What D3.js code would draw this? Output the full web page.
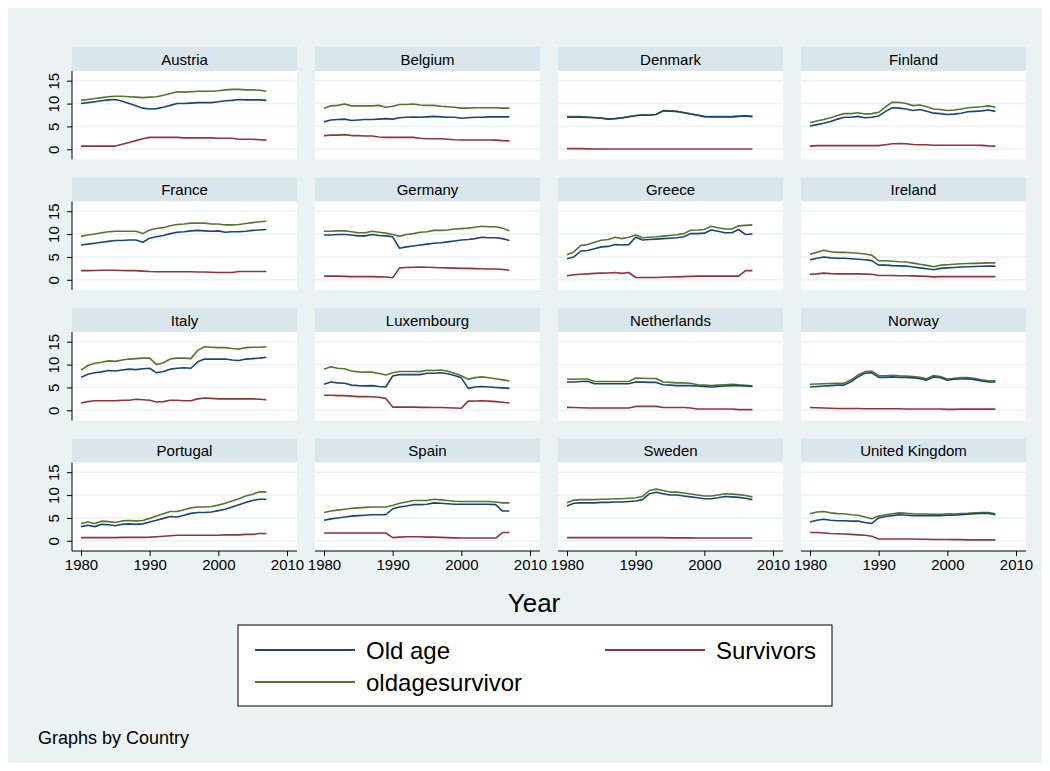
<!DOCTYPE html>
<html><head><meta charset="utf-8">
<script src="https://cdn.jsdelivr.net/npm/d3@7"></script>
<style>body{margin:0;background:#fff;} text{font-family:"Liberation Sans",Arial,sans-serif;}</style>
</head><body>
<svg id="c" width="1050" height="771"></svg>
<script>
const years = d3.range(1980, 2008);
const countries = ["Austria","Belgium","Denmark","Finland","France","Germany","Greece","Ireland","Italy","Luxembourg","Netherlands","Norway","Portugal","Spain","Sweden","United Kingdom"];
const xTicks = [1980,1990,2000,2010];
const yTicks = [0,5,10,15];
const seriesNames = ["Old age","Survivors","oldagesurvivor"];
const seriesColors = ["#1a476f","#90353b","#55752f"];

const austriaOld = [10.0,10.2,10.4,10.6,10.8,10.9,10.5,10.0,9.5,9.0,8.8,8.9,9.2,9.6,10.0,10.0,10.1,10.2,10.2,10.2,10.4,10.6,10.7,10.9,10.8,10.8,10.8,10.7];
const austriaSurv = [0.7,0.7,0.7,0.7,0.7,0.7,1.1,1.5,1.9,2.3,2.6,2.6,2.6,2.6,2.6,2.5,2.5,2.5,2.5,2.5,2.4,2.4,2.4,2.2,2.2,2.2,2.1,2.0];
const austriaTot = [10.7,10.9,11.1,11.3,11.5,11.6,11.6,11.5,11.4,11.3,11.4,11.5,11.8,12.2,12.6,12.5,12.6,12.7,12.7,12.7,12.8,13.0,13.1,13.1,13.0,13.0,12.9,12.7];

const belgiumOld = [6.0,6.4,6.5,6.6,6.3,6.4,6.5,6.5,6.6,6.7,6.6,6.9,7.0,7.05,7.0,7.1,7.2,7.1,7.0,7.0,6.8,6.9,7.0,7.0,7.1,7.1,7.1,7.1];
const belgiumSurv = [3.0,3.1,3.1,3.2,3.0,3.0,2.9,2.9,2.7,2.6,2.6,2.6,2.6,2.6,2.4,2.3,2.3,2.3,2.2,2.1,2.05,2.05,2.05,2.05,2.05,2.0,1.9,1.85];
const belgiumTot = [9.0,9.5,9.6,9.9,9.5,9.5,9.5,9.5,9.6,9.2,9.4,9.8,9.8,9.9,9.7,9.6,9.6,9.4,9.3,9.2,9.0,9.0,9.1,9.1,9.1,9.1,9.0,9.0];

const denmarkOld = [7.0,7.0,7.0,6.95,6.9,6.8,6.6,6.7,6.85,7.1,7.35,7.5,7.45,7.6,8.4,8.35,8.25,8.0,7.7,7.45,7.15,7.1,7.1,7.1,7.1,7.2,7.3,7.15];
const denmarkSurv = [0.15,0.15,0.15,0.1,0.05,0.05,0.05,0.05,0.05,0.05,0.05,0.05,0.05,0.05,0.05,0.05,0.05,0.05,0.05,0.05,0.05,0.05,0.05,0.05,0.05,0.05,0.05,0.05];
const denmarkTot = [7.15,7.15,7.15,7.05,6.95,6.85,6.65,6.75,6.9,7.15,7.4,7.55,7.5,7.65,8.45,8.4,8.3,8.05,7.75,7.5,7.2,7.15,7.15,7.15,7.15,7.25,7.35,7.2];

const finlandOld = [5.1,5.4,5.7,6.1,6.6,7.0,7.0,7.2,6.9,7.0,7.3,8.3,9.1,9.0,8.8,8.5,8.7,8.3,7.9,7.8,7.6,7.7,7.9,8.2,8.3,8.4,8.6,8.3];
const finlandSurv = [0.7,0.8,0.8,0.8,0.8,0.8,0.8,0.8,0.8,0.8,0.8,1.0,1.2,1.25,1.2,1.05,1.0,1.0,0.9,0.9,0.9,0.9,0.9,0.9,0.9,0.85,0.75,0.7];
const finlandTot = [5.8,6.2,6.5,6.9,7.4,7.8,7.8,8.0,7.7,7.8,8.1,9.3,10.3,10.25,10.0,9.55,9.7,9.3,8.8,8.7,8.5,8.6,8.8,9.1,9.2,9.3,9.5,9.2];

const franceOld = [7.6,7.8,8.0,8.2,8.4,8.6,8.6,8.7,8.7,8.2,9.1,9.4,9.7,10.1,10.4,10.5,10.7,10.8,10.7,10.6,10.7,10.4,10.5,10.5,10.6,10.8,10.9,11.0];
const franceSurv = [2.0,2.0,2.05,2.1,2.1,2.1,2.05,2.0,2.0,1.9,1.8,1.75,1.75,1.75,1.75,1.75,1.75,1.7,1.7,1.65,1.6,1.6,1.6,1.8,1.8,1.8,1.8,1.8];
const franceTot = [9.5,9.8,10.0,10.3,10.5,10.6,10.6,10.6,10.6,10.1,10.9,11.2,11.4,11.8,12.1,12.2,12.4,12.4,12.4,12.2,12.2,12.0,12.0,12.1,12.3,12.5,12.7,12.8];

const germanyOld = [9.8,9.8,9.9,9.9,9.8,9.6,9.6,9.9,9.7,9.6,9.4,6.9,7.2,7.4,7.6,7.8,8.0,8.1,8.3,8.5,8.7,8.8,9.0,9.3,9.2,9.2,9.0,8.6];
const germanySurv = [0.8,0.8,0.8,0.75,0.7,0.7,0.7,0.7,0.65,0.6,0.45,2.6,2.7,2.75,2.8,2.75,2.7,2.65,2.6,2.55,2.5,2.5,2.45,2.4,2.35,2.35,2.25,2.1];
const germanyTot = [10.6,10.6,10.7,10.7,10.5,10.3,10.3,10.6,10.4,10.2,9.9,9.5,9.9,10.1,10.4,10.5,10.8,10.8,10.9,11.1,11.2,11.3,11.5,11.7,11.6,11.6,11.3,10.7];

const greeceOld = [4.6,5.0,6.3,6.4,6.8,7.2,7.3,7.7,7.6,7.7,9.3,8.7,8.8,8.9,9.0,9.1,9.2,9.4,10.1,10.1,10.2,10.9,10.6,10.3,10.3,11.0,9.9,10.0];
const greeceSurv = [0.9,1.1,1.2,1.3,1.4,1.45,1.5,1.6,1.4,1.6,0.5,0.5,0.5,0.5,0.55,0.6,0.65,0.7,0.75,0.8,0.8,0.8,0.8,0.8,0.8,0.8,2.0,2.0];
const greeceTot = [5.5,6.1,7.5,7.7,8.2,8.65,8.8,9.3,9.0,9.3,9.8,9.2,9.3,9.4,9.55,9.7,9.85,10.1,10.85,10.9,11.0,11.7,11.4,11.1,11.1,11.8,11.9,12.0];

const irelandOld = [4.4,4.7,5.0,4.8,4.7,4.7,4.6,4.5,4.4,4.2,3.2,3.2,3.1,3.05,3.0,2.8,2.6,2.4,2.2,2.5,2.6,2.7,2.8,2.85,2.9,2.95,3.0,3.0];
const irelandSurv = [1.2,1.3,1.45,1.35,1.3,1.3,1.3,1.3,1.25,1.2,0.95,0.95,0.95,0.9,0.9,0.85,0.8,0.75,0.65,0.7,0.7,0.7,0.7,0.7,0.7,0.7,0.7,0.7];
const irelandTot = [5.6,6.0,6.45,6.15,6.0,6.0,5.9,5.8,5.65,5.4,4.15,4.15,4.05,3.95,3.9,3.65,3.4,3.15,2.85,3.2,3.3,3.4,3.5,3.55,3.6,3.65,3.7,3.7];

const italyOld = [7.2,7.9,8.2,8.4,8.7,8.6,8.8,9.0,8.9,9.1,9.2,8.2,8.5,9.0,9.2,9.3,9.2,10.6,11.2,11.2,11.2,11.2,11.0,10.9,11.2,11.3,11.4,11.6];
const italySurv = [1.6,1.9,2.1,2.1,2.1,2.1,2.2,2.2,2.4,2.3,2.2,1.8,1.9,2.2,2.2,2.1,2.1,2.5,2.7,2.6,2.5,2.5,2.5,2.5,2.5,2.5,2.4,2.3];
const italyTot = [8.8,9.8,10.3,10.5,10.8,10.7,11.0,11.2,11.3,11.4,11.4,10.0,10.4,11.2,11.4,11.4,11.3,13.1,13.9,13.8,13.7,13.7,13.5,13.4,13.7,13.8,13.8,13.9];

const luxembourgOld = [5.7,6.2,6.0,5.9,5.5,5.4,5.35,5.4,5.2,5.1,7.5,7.8,7.8,7.8,7.8,8.1,8.1,8.2,8.0,7.6,7.1,4.8,5.1,5.2,5.1,5.0,4.9,4.8];
const luxembourgSurv = [3.3,3.3,3.2,3.2,3.1,3.0,3.0,2.95,2.85,2.6,0.7,0.7,0.7,0.7,0.65,0.65,0.6,0.6,0.55,0.5,0.45,2.0,2.05,2.1,2.0,1.9,1.75,1.6];
const luxembourgTot = [9.0,9.5,9.2,9.1,8.6,8.4,8.35,8.35,8.05,7.7,8.2,8.5,8.5,8.5,8.45,8.75,8.7,8.8,8.55,8.1,7.55,6.8,7.15,7.3,7.1,6.9,6.65,6.4];

const netherlandsOld = [6.2,6.2,6.3,6.35,5.8,5.8,5.8,5.8,5.8,5.8,6.2,6.15,6.1,6.1,5.6,5.5,5.4,5.4,5.4,5.3,5.2,5.1,5.2,5.3,5.4,5.4,5.3,5.2];
const netherlandsSurv = [0.65,0.6,0.55,0.5,0.5,0.5,0.5,0.5,0.5,0.5,0.85,0.85,0.85,0.85,0.6,0.6,0.6,0.6,0.5,0.3,0.3,0.3,0.3,0.3,0.3,0.15,0.15,0.15];
const netherlandsTot = [6.85,6.8,6.85,6.85,6.3,6.3,6.3,6.3,6.3,6.3,7.05,7.0,6.95,6.95,6.2,6.1,6.0,6.0,5.9,5.6,5.5,5.4,5.5,5.6,5.7,5.55,5.45,5.35];

const norwayOld = [5.1,5.2,5.3,5.4,5.5,5.5,6.3,7.3,8.1,8.2,7.2,7.2,7.3,7.2,7.2,7.1,6.9,6.6,7.3,7.1,6.6,6.8,6.85,6.9,6.7,6.4,6.2,6.2];
const norwaySurv = [0.6,0.55,0.5,0.45,0.4,0.4,0.4,0.4,0.35,0.35,0.35,0.35,0.35,0.35,0.3,0.3,0.3,0.3,0.3,0.3,0.2,0.2,0.3,0.25,0.25,0.25,0.25,0.25];
const norwayTot = [5.7,5.75,5.8,5.85,5.9,5.9,6.7,7.7,8.45,8.55,7.55,7.55,7.65,7.55,7.5,7.4,7.2,6.9,7.6,7.4,6.8,7.0,7.15,7.15,6.95,6.65,6.45,6.45];

const portugalOld = [3.1,3.4,3.1,3.6,3.5,3.3,3.6,3.7,3.6,3.7,4.1,4.5,4.9,5.3,5.2,5.6,6.0,6.2,6.2,6.3,6.6,6.9,7.4,7.9,8.4,8.8,9.1,9.1];
const portugalSurv = [0.7,0.7,0.7,0.7,0.7,0.7,0.75,0.75,0.75,0.75,0.8,0.9,1.0,1.1,1.2,1.2,1.2,1.2,1.2,1.2,1.2,1.3,1.3,1.3,1.4,1.4,1.6,1.6];
const portugalTot = [3.8,4.1,3.8,4.3,4.2,4.0,4.35,4.45,4.35,4.45,4.9,5.4,5.9,6.4,6.4,6.8,7.2,7.4,7.4,7.5,7.8,8.2,8.7,9.2,9.8,10.2,10.7,10.7];

const spainOld = [4.5,4.8,5.0,5.2,5.4,5.5,5.6,5.7,5.7,5.7,7.0,7.4,7.6,7.9,7.9,8.0,8.3,8.2,8.1,8.0,8.0,8.0,8.0,8.0,8.0,7.9,6.5,6.5];
const spainSurv = [1.7,1.7,1.7,1.7,1.7,1.7,1.7,1.7,1.7,1.7,0.7,0.8,0.9,0.9,0.9,0.8,0.8,0.75,0.7,0.65,0.6,0.6,0.6,0.6,0.6,0.6,1.8,1.8];
const spainTot = [6.2,6.5,6.7,6.9,7.1,7.2,7.3,7.4,7.4,7.4,7.7,8.2,8.5,8.8,8.8,8.8,9.1,8.95,8.8,8.65,8.6,8.6,8.6,8.6,8.6,8.5,8.3,8.3];

const swedenOld = [7.6,8.2,8.3,8.3,8.3,8.4,8.4,8.5,8.5,8.6,8.7,9.0,10.3,10.6,10.3,10.0,10.0,9.8,9.6,9.4,9.2,9.2,9.4,9.7,9.6,9.5,9.3,9.0];
const swedenSurv = [0.7,0.7,0.7,0.7,0.7,0.7,0.7,0.7,0.7,0.7,0.7,0.7,0.7,0.7,0.7,0.65,0.65,0.65,0.65,0.6,0.6,0.6,0.6,0.6,0.6,0.6,0.6,0.6];
const swedenTot = [8.3,8.9,9.0,9.0,9.0,9.1,9.1,9.2,9.2,9.3,9.4,9.7,11.0,11.3,11.0,10.65,10.65,10.45,10.25,10.0,9.8,9.8,10.0,10.3,10.2,10.1,9.9,9.6];

const ukOld = [4.1,4.5,4.7,4.5,4.4,4.4,4.3,4.3,4.0,3.8,5.0,5.3,5.5,5.7,5.6,5.5,5.5,5.5,5.5,5.5,5.6,5.6,5.7,5.8,5.9,6.0,6.0,5.7];
const ukSurv = [1.8,1.8,1.7,1.6,1.55,1.5,1.4,1.3,1.2,1.0,0.4,0.4,0.4,0.4,0.4,0.4,0.35,0.35,0.3,0.3,0.3,0.25,0.25,0.2,0.2,0.2,0.2,0.2];
const ukTot = [5.9,6.3,6.4,6.1,5.95,5.9,5.7,5.6,5.2,4.8,5.4,5.7,5.9,6.1,6.0,5.9,5.85,5.85,5.8,5.8,5.9,5.85,5.95,6.0,6.1,6.2,6.2,5.9];

const panelSeries = [
  [austriaOld,austriaSurv,austriaTot],[belgiumOld,belgiumSurv,belgiumTot],[denmarkOld,denmarkSurv,denmarkTot],[finlandOld,finlandSurv,finlandTot],
  [franceOld,franceSurv,franceTot],[germanyOld,germanySurv,germanyTot],[greeceOld,greeceSurv,greeceTot],[irelandOld,irelandSurv,irelandTot],
  [italyOld,italySurv,italyTot],[luxembourgOld,luxembourgSurv,luxembourgTot],[netherlandsOld,netherlandsSurv,netherlandsTot],[norwayOld,norwaySurv,norwayTot],
  [portugalOld,portugalSurv,portugalTot],[spainOld,spainSurv,spainTot],[swedenOld,swedenSurv,swedenTot],[ukOld,ukSurv,ukTot]
];

const svg = d3.select("#c");
svg.append("rect").attr("x",8).attr("y",8).attr("width",1034).attr("height",755).attr("fill","#eaf2f3");

const colX0 = 72, colStep = 243, pw = 225;
const rowY0 = 71, rowStep = 130.5, ph = 88.5, stripH = 24;
const axisColor = "#000";

countries.forEach((name, i) => {
  const c = i % 4, r = Math.floor(i / 4);
  const px = colX0 + c * colStep, py = rowY0 + r * rowStep;
  const x = d3.scaleLinear().domain([1980, 2010]).range([px + 9, px + 215]);
  const y = d3.scaleLinear().domain([0, 15]).range([py + 78.3, py + 9.7]);
  const g = svg.append("g");
  g.append("rect").attr("x", px).attr("y", py - stripH).attr("width", pw).attr("height", stripH).attr("fill", "#d9e6eb");
  g.append("text").attr("x", px + pw / 2).attr("y", py - stripH / 2 + 5.5).attr("text-anchor", "middle")
    .attr("font-size", 15).attr("fill", "#000").text(name);
  g.append("rect").attr("x", px).attr("y", py).attr("width", pw).attr("height", ph).attr("fill", "#fff");
  g.selectAll("line.grid").data(yTicks).enter().append("line")
    .attr("x1", px).attr("x2", px + pw).attr("y1", d => y(d)).attr("y2", d => y(d))
    .attr("stroke", "#eaf2f3").attr("stroke-width", 1.5);
  if (c === 0) {
    const ya = g.append("g").attr("transform", `translate(${px},0)`)
      .call(d3.axisLeft(y).tickValues(yTicks).tickSize(5).tickPadding(3).tickFormat(d3.format("d")));
    ya.select(".domain").attr("stroke", axisColor).attr("d", `M0,${py}V${py + ph}`);
    ya.selectAll(".tick line").attr("stroke", axisColor);
    ya.selectAll(".tick text").attr("font-size", 15).attr("fill", "#000")
      .attr("text-anchor", "middle").attr("transform", "rotate(-90)")
      .attr("x", 0).attr("dy", 0).attr("y", -13);
    ya.selectAll(".tick text").attr("font-family", null);
  }
  if (r === 3) {
    const xa = g.append("g").attr("transform", `translate(0,${py + ph})`)
      .call(d3.axisBottom(x).tickValues(xTicks).tickSize(5).tickPadding(3).tickFormat(d3.format("d")));
    xa.select(".domain").attr("stroke", axisColor).attr("d", `M${px},0H${px + pw}`);
    xa.selectAll(".tick line").attr("stroke", axisColor);
    xa.selectAll(".tick text").attr("font-size", 15).attr("fill", "#000").attr("font-family", null);
  }
  const line = d3.line().x((d, k) => x(years[k])).y(d => y(d));
  [2, 1, 0].forEach(s => {
    g.append("path").datum(panelSeries[i][s]).attr("d", line)
      .attr("fill", "none").attr("stroke", seriesColors[s]).attr("stroke-width", 1.6).attr("stroke-linejoin", "round");
  });
});

svg.append("text").attr("x", 534).attr("y", 612).attr("text-anchor", "middle").attr("font-size", 26).attr("fill", "#000").text("Year");

// legend
const lg = svg.append("g");
lg.append("rect").attr("x", 238).attr("y", 625).attr("width", 594).attr("height", 81).attr("fill", "#fff").attr("stroke", "#000").attr("stroke-width", 1);
const legendPos = [[255, 650], [605, 650], [255, 682]];
seriesNames.forEach((n, s) => {
  const [lx, ly] = legendPos[s];
  lg.append("line").attr("x1", lx).attr("x2", lx + 100).attr("y1", ly).attr("y2", ly).attr("stroke", seriesColors[s]).attr("stroke-width", 2);
  lg.append("text").attr("x", lx + 111).attr("y", ly + 8.5).attr("font-size", 24).attr("fill", "#000").text(n);
});

svg.append("text").attr("x", 38).attr("y", 744).attr("font-size", 18).attr("fill", "#000").text("Graphs by Country");
</script>
</body></html>
